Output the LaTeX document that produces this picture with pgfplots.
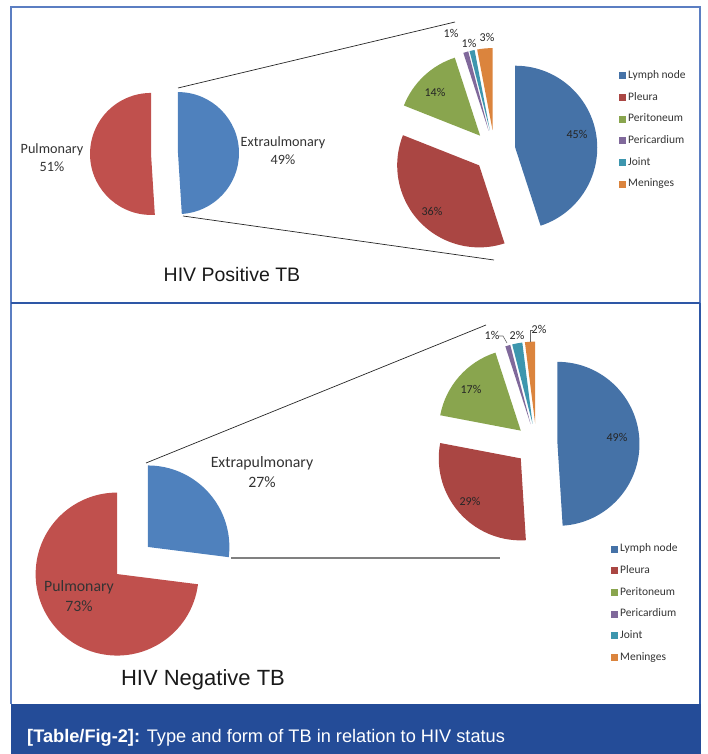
\documentclass[border=0pt]{standalone}
\usepackage{pgfplots}
\usepackage{pgfplotstable}
\pgfplotsset{compat=1.18}
\usepackage{fontspec}
\setmainfont{Liberation Sans}
\newfontfamily\calib{Carlito}

\definecolor{frameblue}{HTML}{5B7EC2}
\definecolor{darkframe}{HTML}{2E57A6}
\definecolor{capbar}{HTML}{244C98}
\definecolor{labgray}{HTML}{333333}
% left pies: first slice clockwise from 12 o'clock = Extrapulmonary
\definecolor{pA0}{HTML}{4F81BD}
\definecolor{pA1}{HTML}{C0504D}
% right pies: Lymph node, Pleura, Peritoneum, Pericardium, Joint, Meninges
\definecolor{pB0}{HTML}{4572A7}
\definecolor{pB1}{HTML}{AA4643}
\definecolor{pB2}{HTML}{89A54E}
\definecolor{pB3}{HTML}{80699B}
\definecolor{pB4}{HTML}{3D96AE}
\definecolor{pB5}{HTML}{DB843D}

\pgfplotstableread{
name value
Extrapulmonary 49
Pulmonary 51
}\posType
\pgfplotstableread{
name value
Lymph 45
Pleura 36
Peritoneum 14
Pericardium 1
Joint 1
Meninges 3
}\posForm
\pgfplotstableread{
name value
Extrapulmonary 27
Pulmonary 73
}\negType
\pgfplotstableread{
name value
Lymph 49
Pleura 29
Peritoneum 17
Pericardium 1
Joint 2
Meninges 2
}\negForm

% one exploded slice: cx cy r explode startangle endangle colour
\newcommand\pieslice[7]{%
  \pgfmathsetmacro\midang{(#5+#6)/2}%
  \edef\tmp{\noexpand\fill[#7] (axis cs:#1,#2) ++(\midang:#4pt) -- ++(#5:#3pt) arc[start angle=#5,end angle=#6,radius=#3pt] -- cycle;}%
  \tmp}
% whole pie from a table: table cx cy r explode colourprefix
\newcommand\drawpie[6]{%
  \pgfplotstablegetrowsof{#1}%
  \pgfmathtruncatemacro\lastrow{\pgfplotsretval-1}%
  \xdef\curang{90}%
  \pgfplotsforeachungrouped \ri in {0,...,\lastrow}{%
    \pgfplotstablegetelem{\ri}{value}\of{#1}%
    \pgfmathsetmacro\endang{\curang-3.6*\pgfplotsretval}%
    \pieslice{#2}{#3}{#4}{#5}{\curang}{\endang}{#6\ri}%
    \xdef\curang{\endang}%
  }%
}
\newcommand\legentry[4]{%
  \fill[#3] (axis cs:#1,#2) ++(-3.5pt,-3.5pt) rectangle ++(7pt,7pt);
  \node[anchor=west, xshift=5pt, text height=8pt, text depth=2.5pt, inner sep=1pt,
        font=\calib\fontsize{11.5}{13}\selectfont, text=labgray] at (axis cs:#1,#2) {#4};}

\begin{document}
\begin{tikzpicture}
\begin{axis}[
  x=1pt, y=1pt, xmin=0, xmax=708, ymin=0, ymax=754, y dir=reverse,
  hide axis, clip=false, axis line style={draw=none}]
\path (axis cs:0,0) rectangle (axis cs:708,754);

% frames
\draw[frameblue, line width=1.6pt] (axis cs:11,303) -- (axis cs:11,7) -- (axis cs:700,7) -- (axis cs:700,303);
\draw[frameblue, line width=1.6pt] (axis cs:11,303) -- (axis cs:11,704);
\draw[darkframe, line width=1.6pt] (axis cs:700,303) -- (axis cs:700,704);
\draw[darkframe, line width=1.6pt] (axis cs:11,303) -- (axis cs:700,303);
\fill[capbar] (axis cs:11,704) rectangle (axis cs:701,754);
\node[anchor=base west, inner sep=0pt, text=white, font=\fontsize{18.2}{20}\selectfont]
  at (axis cs:27,742) {\textbf{[Table/Fig-2]:} Type and form of TB in relation to HIV status};

% ---------- HIV positive ----------
\draw[black!85, line width=0.7pt] (axis cs:178,88) -- (axis cs:455,22);
\draw[black!85, line width=0.7pt] (axis cs:183,216) -- (axis cs:494,260);
\drawpie{\posType}{164.5}{153.5}{61}{13.5}{pA}
\drawpie{\posForm}{494.5}{151}{82}{21}{pB}

\node[align=center, font=\calib\fontsize{14.2}{18}\selectfont, text=labgray] at (axis cs:52,158) {Pulmonary\\51\%};
\node[align=center, font=\calib\fontsize{14.2}{18}\selectfont, text=labgray] at (axis cs:283,151) {Extraulmonary\\49\%};
\begin{scope}[every node/.style={font=\calib\fontsize{12}{13}\selectfont, text=black!85}]
\node at (axis cs:577,134) {45\%};
\node at (axis cs:432,211) {36\%};
\node at (axis cs:435,92) {14\%};
\node at (axis cs:451,33) {1\%};
\node at (axis cs:469,43) {1\%};
\node at (axis cs:487,37) {3\%};
\end{scope}
\legentry{622}{76}{pB0}{Lymph node}
\legentry{622}{97.6}{pB1}{Pleura}
\legentry{622}{119.2}{pB2}{Peritoneum}
\legentry{622}{140.8}{pB3}{Pericardium}
\legentry{622}{162.4}{pB4}{Joint}
\legentry{622}{184}{pB5}{Meninges}
\node[font=\fontsize{19.5}{22}\selectfont, text=black!90] at (axis cs:232,275) {HIV Positive TB};

% ---------- HIV negative ----------
\draw[black!85, line width=0.7pt] (axis cs:146,463) -- (axis cs:486,325);
\draw[black!50, line width=1.8pt] (axis cs:231,558) -- (axis cs:500,558);
\drawpie{\negType}{132.5}{560.5}{81.5}{20.5}{pA}
\drawpie{\negForm}{536.5}{444.5}{82}{21}{pB}

\node[align=center, font=\calib\fontsize{15.8}{20}\selectfont, text=labgray] at (axis cs:262,472) {Extrapulmonary\\27\%};
\node[align=center, font=\calib\fontsize{15.8}{20}\selectfont, text=labgray] at (axis cs:79,596) {Pulmonary\\73\%};
\begin{scope}[every node/.style={font=\calib\fontsize{12}{13}\selectfont, text=black!85}]
\node at (axis cs:617,437) {49\%};
\node at (axis cs:470,501) {29\%};
\node at (axis cs:471,389) {17\%};
\node at (axis cs:492,335) {1\%};
\node at (axis cs:517,335) {2\%};
\node at (axis cs:539,329) {2\%};
\end{scope}
\draw[black!60, line width=0.6pt] (axis cs:499,336) -- (axis cs:503,336) -- (axis cs:507,343);
\draw[black!60, line width=0.6pt] (axis cs:530,342) -- (axis cs:530,330) -- (axis cs:533,330);
\legentry{614}{549}{pB0}{Lymph node}
\legentry{614}{570.7}{pB1}{Pleura}
\legentry{614}{592.4}{pB2}{Peritoneum}
\legentry{614}{614.1}{pB3}{Pericardium}
\legentry{614}{635.8}{pB4}{Joint}
\legentry{614}{657.5}{pB5}{Meninges}
\node[font=\fontsize{22}{25}\selectfont, text=black!90] at (axis cs:203,680) {HIV Negative TB};
\end{axis}
\end{tikzpicture}
\end{document}
